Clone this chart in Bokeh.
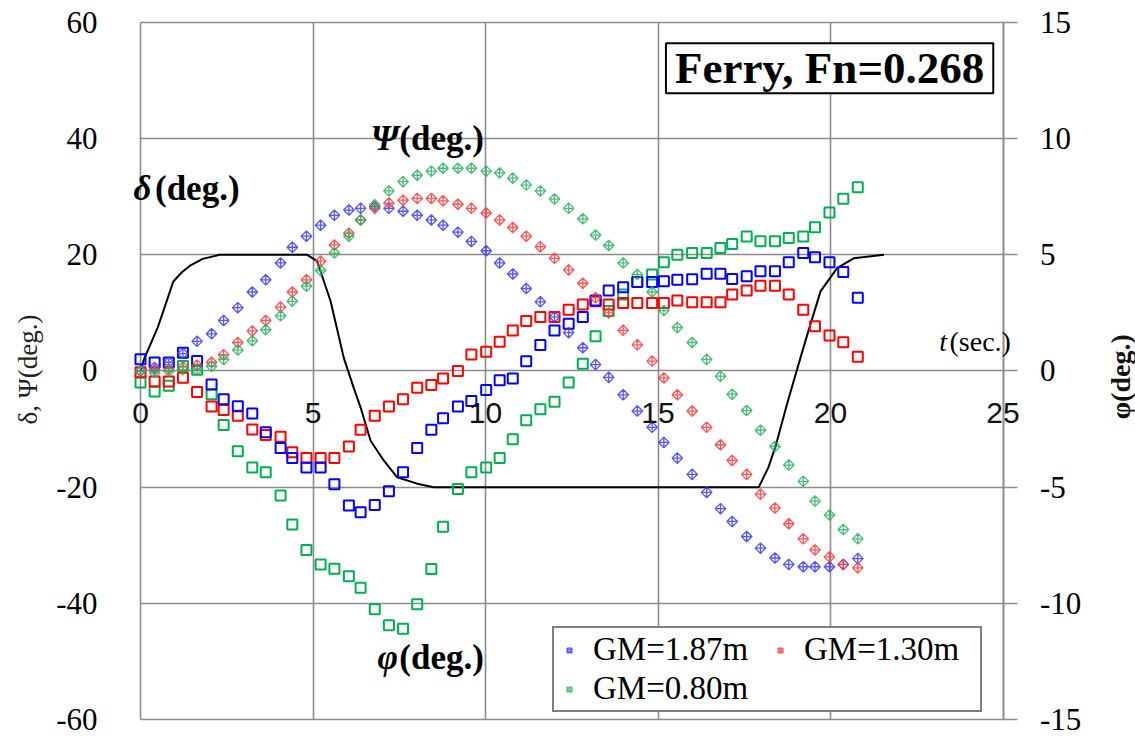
import numpy as np
from bokeh.plotting import figure
from bokeh.models import Range1d, LinearAxis, FixedTicker, Label, Legend, LegendItem
from bokeh.embed import file_html
from bokeh.resources import INLINE

# ---------------- data ----------------
t = [0, 0.41, 0.82, 1.23, 1.64, 2.06, 2.41, 2.82, 3.24, 3.63, 4.06, 4.4, 4.81, 5.22, 5.62,
     6.04, 6.38, 6.79, 7.2, 7.61, 8.02, 8.43, 8.77, 9.2, 9.59, 10.02, 10.41, 10.79, 11.18,
     11.59, 12.0, 12.41, 12.82, 13.19, 13.57, 13.99, 14.4, 14.83, 15.17, 15.56, 15.99, 16.41,
     16.81, 17.15, 17.57, 17.97, 18.39, 18.79, 19.21, 19.55, 19.97, 20.37, 20.79]

# heading angle psi (deg.), left axis
psi_187 = [0, 0.6, 1.5, 3.0, 5.1, 6.4, 8.7, 10.9, 13.6, 15.7, 18.6, 21.3, 23.2, 25.1, 26.8,
           27.7, 28.0, 28.3, 28.0, 27.5, 26.8, 26.0, 25.1, 23.9, 22.3, 20.7, 18.6, 16.7, 14.2,
           11.9, 9.3, 6.6, 4.0, 1.1, -1.1, -4.1, -6.9, -9.7, -12.3, -15.0, -17.8, -20.9,
           -23.7, -25.9, -28.5, -30.5, -32.2, -33.3, -33.7, -33.7, -33.7, -33.3, -32.3]
psi_130 = [0, 0.2, 0.4, 0.7, 1.0, 1.5, 2.8, 4.9, 6.9, 8.7, 11.0, 13.6, 15.7, 18.9, 21.7,
           23.7, 26.0, 28.0, 28.9, 29.4, 29.7, 29.7, 29.3, 28.7, 28.0, 27.2, 26.0, 24.7, 23.2,
           21.4, 19.4, 17.4, 15.1, 12.6, 10.0, 7.0, 4.5, 1.7, -1.2, -4.1, -6.9, -9.7,
           -12.7, -15.4, -17.8, -21.2, -23.6, -26.3, -28.9, -30.8, -32.0, -33.3, -33.9]
psi_080 = [0, -0.3, 0, 0.2, 0.2, 0.8, 2.0, 3.6, 5.2, 7.1, 9.5, 12.0, 14.6, 17.3, 20.3,
           23.2, 26.0, 28.6, 31.0, 32.6, 33.7, 34.4, 34.9, 34.9, 34.9, 34.4, 34.1, 33.2, 32.0,
           31.0, 29.6, 28.0, 26.2, 23.4, 21.6, 18.6, 16.6, 13.6, 10.4, 7.5, 4.9, 2.0,
           -0.9, -4.0, -6.8, -10.2, -13.0, -16.2, -19.0, -22.4, -24.8, -27.3, -28.9]

# roll angle phi (deg.), right axis
phi_187 = [0.5, 0.36, 0.36, 0.79, 0.43, -0.58, -1.22, -1.52, -1.83, -2.64, -3.32, -3.75,
           -4.15, -4.15, -4.87, -5.79, -6.08, -5.77, -5.18, -4.36, -3.32, -2.53, -2.03, -1.53,
           -1.29, -0.82, -0.40, -0.32, 0.42, 1.12, 1.74, 2.03, 2.32, 3.03, 3.46, 3.6, 3.83,
           3.83, 3.86, 3.93, 3.95, 4.18, 4.18, 3.96, 4.08, 4.29, 4.29, 4.68, 5.08, 4.89, 4.68,
           4.26, 3.15]
phi_130 = [-0.05, -0.45, -0.45, -0.29, -0.9, -1.53, -1.68, -1.93, -2.52, -2.75, -2.83, -3.5,
           -3.75, -3.75, -3.75, -3.25, -2.53, -1.93, -1.53, -1.22, -0.72, -0.6, -0.32, 0.0,
           0.71, 0.83, 1.26, 1.74, 2.15, 2.32, 2.32, 2.64, 2.86, 3.0, 2.86, 2.93, 2.93, 2.93,
           2.93, 3.03, 2.96, 2.96, 2.96, 3.29, 3.46, 3.67, 3.67, 3.29, 2.64, 1.93, 1.53, 1.24,
           0.61]
phi_080 = [-0.5, -0.88, -0.64, 0.21, 0.05, -1.0, -2.33, -3.46, -4.15, -4.36, -5.36, -6.61,
           -7.7, -8.33, -8.51, -8.83, -9.33, -10.26, -10.94, -11.09, -10.04, -8.52, -6.7, -5.08,
           -4.36, -4.15, -3.75, -2.94, -2.12, -1.65, -1.32, -0.5, 0.31, 1.5, 2.58, 3.29, 3.83,
           4.15, 4.68, 5.0, 5.08, 5.08, 5.29, 5.46, 5.79, 5.58, 5.58, 5.72, 5.79, 6.19, 6.82,
           7.41, 7.91]

# rudder angle delta (deg.), left axis
delta_t = [0, 0.1, 0.5, 0.7, 0.95, 1.2, 1.45, 1.8, 2.3, 4.83, 5.12, 5.51, 5.89, 6.18, 6.38,
           6.67, 7.05, 7.44, 8.02, 8.5, 17.92, 18.2, 18.41, 18.74, 19.13, 19.33, 19.71, 20.19,
           20.67, 21.55]
delta = [0, 2, 7.5, 11, 15.4, 17, 18.2, 19.3, 20, 20, 18.9, 12, 2.3, -2.9, -6.3,
         -12, -15.4, -18.3, -19.4, -20, -20, -16.6, -12.9, -5.7, 2.3, 6.3, 13.7, 17.7,
         19.4, 20]

x_ticks = [0, 5, 10, 15, 20, 25]
left_ticks = [-60, -40, -20, 0, 20, 40, 60]
right_ticks = [-15, -10, -5, 0, 5, 10, 15]
labels = ["GM=1.87m", "GM=1.30m", "GM=0.80m"]

# ---------------- styling ----------------
diamond_colors = ["#3a3aff", "#ff3a3a", "#2bb160"]
square_colors = ["#0000ff", "#ff0000", "#00b050"]
GRID = "#8c8c8c"
SERIF = "Liberation Serif"
SANS = "Liberation Sans"

# The frame covers the page to the right, top and bottom so that the right-hand
# axis (drawn at t = 25) and its labels are not clipped; grids are bounded to the
# visible plot area (t 0..25, -60..60).
X0, X1 = -0.406, 28.84
Y0, Y1 = -63.27, 63.78
p = figure(width=1135, height=738, output_backend="svg", toolbar_location=None,
           x_range=Range1d(X0, X1), y_range=Range1d(Y0, Y1),
           min_border_left=126, min_border_right=0, min_border_top=0,
           min_border_bottom=0)
p.extra_y_ranges = {"phi": Range1d(Y0 / 4, Y1 / 4)}
p.outline_line_color = None
p.background_fill_color = "white"
p.border_fill_color = "white"

xt = FixedTicker(ticks=x_ticks)
lt = FixedTicker(ticks=left_ticks)
rt = FixedTicker(ticks=right_ticks)

# x axis crossing at zero
xa = p.xaxis[0]
xa.ticker = xt
xa.fixed_location = 0
xa.axis_line_color = None
xa.major_tick_line_color = None
xa.minor_tick_line_color = None
xa.major_label_standoff = 26
xa.major_label_text_font = SANS
xa.major_label_text_font_size = "30px"
xa.major_label_text_color = "#111111"

ya = p.yaxis[0]
ya.ticker = lt
ya.axis_line_color = None
ya.major_tick_out = 0
ya.major_tick_in = 0
ya.minor_tick_line_color = None
ya.major_label_standoff = 29
ya.major_label_overrides = {v: str(v) for v in left_ticks}
ya.major_label_text_font = SERIF
ya.major_label_text_font_size = "31px"
ya.major_label_text_color = "black"
ya.axis_label = "δ, Ψ(deg.)"
ya.axis_label_text_font = SERIF
ya.axis_label_text_font_style = "normal"
ya.axis_label_text_font_size = "27px"
ya.axis_label_text_color = "#222222"
ya.axis_label_standoff = 10

# right axis for phi, drawn at t = 25
ra = LinearAxis(y_range_name="phi", ticker=rt)
ra.fixed_location = 25
ra.bounds = (-15, 15)
ra.axis_line_color = GRID
ra.axis_line_width = 1.6
ra.major_tick_out = 14
ra.major_tick_in = 0
ra.major_tick_line_color = GRID
ra.major_tick_line_width = 1.6
ra.minor_tick_line_color = None
ra.major_label_standoff = 23
ra.major_label_overrides = {v: str(v) for v in right_ticks}
ra.major_label_text_font = SERIF
ra.major_label_text_font_size = "31px"
ra.major_label_text_color = "black"
p.add_layout(ra, "right")

p.xgrid.ticker = xt
p.ygrid.ticker = lt
p.ygrid.cross_bounds = (0, 25)
p.xgrid.cross_bounds = (-60, 60)
for g in (p.xgrid[0], p.ygrid[0]):
    g.grid_line_color = GRID
    g.grid_line_width = 1.6

# rudder angle
p.line(delta_t, delta, line_color="black", line_width=2)

# roll (squares, right axis)
for phi, c in zip([phi_080, phi_130, phi_187], [square_colors[2], square_colors[1], square_colors[0]]):
    p.scatter(t, phi, marker="square", size=10, line_color=c, line_width=2,
              fill_color=None, y_range_name="phi")

# heading (diamonds, left axis)
renderers = []
for psi, c in zip([psi_187, psi_130, psi_080], diamond_colors):
    r = p.scatter(t, psi, marker="square_x", angle=np.pi / 4, size=7.5, line_color=c,
                  line_width=1.3, line_alpha=0.85, fill_color=None)
    renderers.append(r)

# legend filled column-wise: col 1 = 1.87m, 0.80m; col 2 = 1.30m
order = [0, 2, 1]
legend = Legend(items=[LegendItem(label=labels[i], renderers=[renderers[i]]) for i in order],
                ncols=2, location=(426, 26))
legend.border_line_color = "black"
legend.border_line_width = 2
legend.background_fill_color = "white"
legend.background_fill_alpha = 1
legend.label_text_font = SERIF
legend.label_text_font_size = "33px"
legend.label_text_color = "black"
legend.glyph_width = 24
legend.glyph_height = 12
legend.label_standoff = 12
legend.label_width = 173
legend.padding = 3
legend.spacing = 2
legend.margin = 0
p.add_layout(legend, "center")

# title box
p.add_layout(Label(x=15.23, y=47.8, text="Ferry, Fn=0.268", text_font=SERIF,
                   text_font_style="bold", text_font_size="45px", text_color="black",
                   text_align="left", text_baseline="bottom",
                   border_line_color="black", border_line_width=2,
                   background_fill_color="white", padding=(9, 0)))

# title of the right-hand axis (reads bottom to top)
p.add_layout(Label(x=28.41, y=-1.0, text="φ(deg.)", text_font=SERIF,
                   text_font_style="bold", text_font_size="28px", text_color="#111111",
                   text_align="center", text_baseline="middle", angle=np.pi / 2))


def sym_label(x_sym, x_rest, y, sym, rest, size="35px", bold=True):
    style_sym = "bold italic" if bold else "italic"
    style_rest = "bold" if bold else "normal"
    p.add_layout(Label(x=x_sym, y=y, text=sym, text_font=SERIF, text_font_style=style_sym,
                       text_font_size=size, text_color="black", text_align="left",
                       text_baseline="middle"))
    p.add_layout(Label(x=x_rest, y=y, text=rest, text_font=SERIF, text_font_style=style_rest,
                       text_font_size=size, text_color="black", text_align="left",
                       text_baseline="middle"))


sym_label(6.67, 7.5, 40.0, "Ψ", "(deg.)")
sym_label(-0.2, 0.42, 31.5, "δ", "(deg.)")
sym_label(6.87, 7.5, -49.3, "φ", "(deg.)")
sym_label(23.15, 23.45, 5.0, "t", "(sec.)", size="28px", bold=False)

open("out.html", "w").write(file_html(p, INLINE))
